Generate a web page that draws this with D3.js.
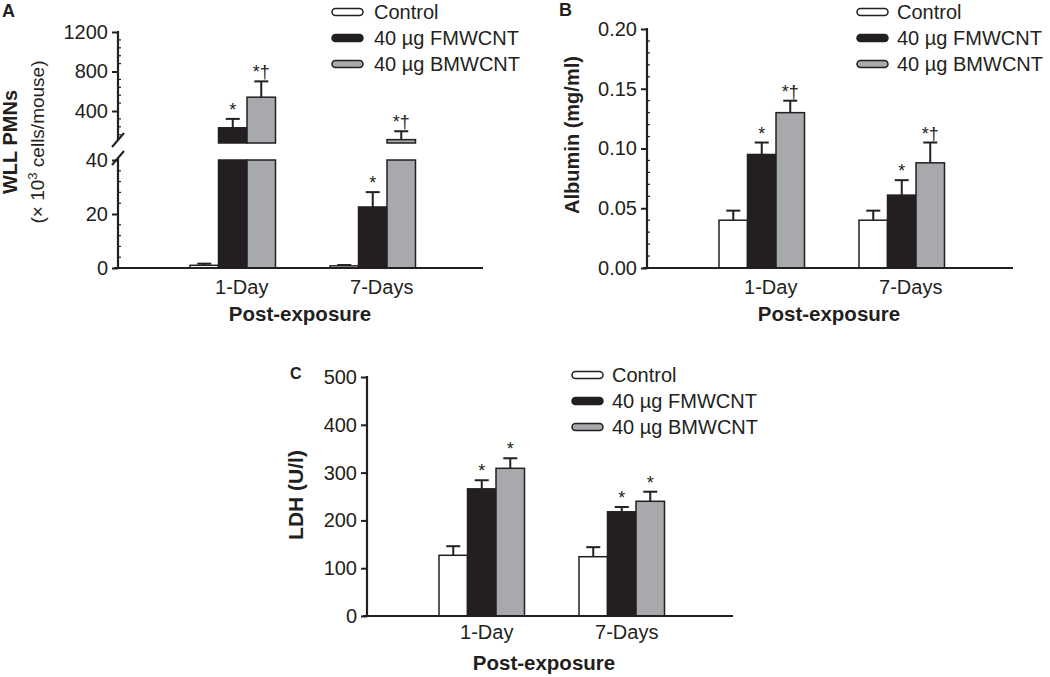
<!DOCTYPE html>
<html><head><meta charset="utf-8">
<script src="https://cdn.jsdelivr.net/npm/d3@7"></script>
<style>
body{margin:0;background:#fff}
svg{display:block}
text{font-family:"Liberation Sans",Arial,Helvetica,sans-serif;fill:#231f20}
</style>
</head><body>
<svg id="c" width="1050" height="677"></svg>
<script>
// ---------- data ----------
const categories = ["1-Day", "7-Days"];
const seriesNames = ["Control", "40 µg FMWCNT", "40 µg BMWCNT"];

// Panel A: WLL PMNs (x10^3 cells/mouse)
const pmnControl = [1.0, 0.8];
const pmnFMWCNT = [230, 22.6];
const pmnBMWCNT = [540, 110];
const pmnControlErr = [0.6, 0.3];
const pmnFMWCNTErr = [90, 5.5];
const pmnBMWCNTErr = [160, 85];
const pmnMarks = [["", "*", "*†"], ["", "*", "*†"]];
const pmnLowerTicks = [0, 20, 40];
const pmnUpperTicks = [400, 800, 1200];

// Panel B: Albumin (mg/ml)
const albControl = [0.040, 0.040];
const albFMWCNT = [0.095, 0.061];
const albBMWCNT = [0.130, 0.088];
const albControlErr = [0.008, 0.008];
const albFMWCNTErr = [0.010, 0.0125];
const albBMWCNTErr = [0.010, 0.017];
const albMarks = [["", "*", "*†"], ["", "*", "*†"]];
const albTicks = [0, 0.05, 0.10, 0.15, 0.20];

// Panel C: LDH (U/l)
const ldhControl = [127, 124];
const ldhFMWCNT = [266, 218];
const ldhBMWCNT = [309, 240];
const ldhControlErr = [19, 20];
const ldhFMWCNTErr = [18, 10];
const ldhBMWCNTErr = [21, 20];
const ldhMarks = [["", "*", "*"], ["", "*", "*"]];
const ldhTicks = [0, 100, 200, 300, 400, 500];

// ---------- style ----------
const dark = "#231f20";
const fills = ["#ffffff", "#231f20", "#a7a9ac"];
const svg = d3.select("#c");

function xScales(x0) {
  const xb = d3.scaleBand().domain(categories)
    .range([x0 + 72, x0 + 72 + 140 + 85.5]).paddingInner(54.5 / 140).paddingOuter(0);
  const xi = d3.scaleBand().domain(seriesNames).range([0, xb.bandwidth()]);
  return [xb, xi];
}

function xAxis(g, xb, x0, y0, len, dx, labelDy, titleX, titleDy) {
  g.append("line").attr("x1", x0 - 4).attr("x2", x0 + len).attr("y1", y0).attr("y2", y0)
    .attr("stroke", dark).attr("stroke-width", 2.2);
  const ax = g.append("g").attr("transform", `translate(0,${y0})`)
    .call(d3.axisBottom(xb).tickSize(0));
  ax.select(".domain").remove();
  ax.selectAll("text").attr("y", labelDy).attr("dy", 0).attr("dx", dx)
    .style("font-size", "20px");
  g.append("text").attr("x", titleX).attr("y", y0 + titleDy).attr("text-anchor", "middle")
    .style("font-size", "20.5px").style("font-weight", "bold").text("Post-exposure");
}

function yAxis(g, scale, ticks, minors, x0, fmt, yTop, yBottom) {
  const ax = g.append("g").attr("transform", `translate(${x0},0)`)
    .call(d3.axisLeft(scale).tickValues(ticks).tickSize(6).tickPadding(4).tickFormat(fmt));
  ax.select(".domain").remove();
  ax.selectAll(".tick line").attr("stroke", dark).attr("stroke-width", 2);
  ax.selectAll("text").style("font-size", "20px");
  g.selectAll(null).data(minors).enter().append("line")
    .attr("x1", x0).attr("x2", x0 + 3)
    .attr("y1", d => scale(d)).attr("y2", d => scale(d))
    .attr("stroke", dark).attr("stroke-width", 1.2);
  g.append("line").attr("x1", x0).attr("x2", x0).attr("y1", yTop).attr("y2", yBottom)
    .attr("stroke", dark).attr("stroke-width", 2.2);
}

function errBar(g, cx, yFrom, yTo, mark) {
  g.append("line").attr("x1", cx).attr("x2", cx).attr("y1", yFrom).attr("y2", yTo)
    .attr("stroke", dark).attr("stroke-width", 2);
  g.append("line").attr("x1", cx - 7).attr("x2", cx + 7).attr("y1", yTo).attr("y2", yTo)
    .attr("stroke", dark).attr("stroke-width", 2);
  if (mark) {
    g.append("text").attr("x", cx).attr("y", yTo - 3).attr("text-anchor", "middle")
      .style("font-size", "18px").text(mark);
  }
}

function legend(g, x, y, tx) {
  seriesNames.forEach((s, i) => {
    g.append("rect").attr("x", x).attr("y", y + i * 26 - 3.5).attr("width", 31).attr("height", 7)
      .attr("rx", 3.5).attr("fill", fills[i]).attr("stroke", dark).attr("stroke-width", 1.5);
    g.append("text").attr("x", tx).attr("y", y + i * 26 + 7).style("font-size", "20px").text(s);
  });
}

function simpleBars(g, xb, xi, y, means, errs, marks) {
  categories.forEach((c, ci) => {
    seriesNames.forEach((s, si) => {
      const v = means[si][ci], e = errs[si][ci];
      const bx = xb(c) + xi(s), bw = xi.bandwidth();
      errBar(g, bx + bw / 2, y(v), y(v + e), marks[ci][si]);
      g.append("rect").attr("x", bx).attr("y", y(v)).attr("width", bw).attr("height", y(0) - y(v))
        .attr("fill", fills[si]).attr("stroke", dark).attr("stroke-width", 1.5);
    });
  });
}

// ---------- Panel A ----------
(function () {
  const g = svg.append("g");
  const x0 = 118, y0 = 268, len = 365;
  const [xb, xi] = xScales(x0);
  const yLow = d3.scaleLinear().domain([0, 40]).range([y0, 160]);
  const yUp = d3.scaleLinear().domain([400, 1200]).range([111, 32]);
  const breakY = 143;
  const upMin = yUp.invert(breakY);

  const means = [pmnControl, pmnFMWCNT, pmnBMWCNT];
  const errs = [pmnControlErr, pmnFMWCNTErr, pmnBMWCNTErr];
  categories.forEach((c, ci) => {
    seriesNames.forEach((s, si) => {
      const v = means[si][ci], e = errs[si][ci];
      const bx = xb(c) + xi(s), bw = xi.bandwidth();
      if (v > 40) {
        errBar(g, bx + bw / 2, yUp(Math.max(v, upMin)), yUp(v + e), pmnMarks[ci][si]);
        g.append("rect").attr("x", bx).attr("y", yUp(v)).attr("width", bw)
          .attr("height", Math.max(0, yUp(upMin) - yUp(v)))
          .attr("fill", fills[si]).attr("stroke", dark).attr("stroke-width", 1.5);
        g.append("rect").attr("x", bx).attr("y", yLow(40)).attr("width", bw)
          .attr("height", yLow(0) - yLow(40))
          .attr("fill", fills[si]).attr("stroke", dark).attr("stroke-width", 1.5);
      } else {
        errBar(g, bx + bw / 2, yLow(v), yLow(v + e), pmnMarks[ci][si]);
        g.append("rect").attr("x", bx).attr("y", yLow(v)).attr("width", bw)
          .attr("height", yLow(0) - yLow(v))
          .attr("fill", fills[si]).attr("stroke", dark).attr("stroke-width", 1.5);
      }
    });
  });

  yAxis(g, yLow, pmnLowerTicks, d3.range(4, 40, 4).filter(d => d % 20 !== 0), x0, d3.format("d"), 158, y0 + 1);
  yAxis(g, yUp, pmnUpperTicks, d3.range(160, 1200, 80).filter(d => d % 400 !== 0 && yUp(d) < 140), x0, d3.format("d"), 31, 140);
  // break marks
  [140, 158].forEach(cy => {
    g.append("line").attr("x1", x0 - 6).attr("y1", cy + 7).attr("x2", x0 + 6).attr("y2", cy - 7)
      .attr("stroke", dark).attr("stroke-width", 2);
  });

  xAxis(g, xb, x0, y0, len, 9, 26, 300, 53);
  legend(g, 332, 12, 374);
  g.append("text").attr("x", 2).attr("y", 17).style("font-size", "18px").style("font-weight", "bold").text("A");
  g.append("text").attr("transform", "translate(17,142) rotate(-90)").attr("text-anchor", "middle")
    .style("font-size", "20px").style("font-weight", "bold").text("WLL PMNs");
  const t = g.append("text").attr("transform", "translate(44,142) rotate(-90)").attr("text-anchor", "middle")
    .style("font-size", "19px");
  t.append("tspan").text("(× 10");
  t.append("tspan").attr("dy", -7).style("font-size", "13px").text("3");
  t.append("tspan").attr("dy", 7).text(" cells/mouse)");
})();

// ---------- Panel B ----------
(function () {
  const g = svg.append("g");
  const x0 = 647, y0 = 268, len = 366;
  const [xb, xi] = xScales(x0);
  const y = d3.scaleLinear().domain([0, 0.2]).range([y0, 29]);
  simpleBars(g, xb, xi, y, [albControl, albFMWCNT, albBMWCNT],
    [albControlErr, albFMWCNTErr, albBMWCNTErr], albMarks);
  yAxis(g, y, albTicks, d3.range(1, 20).filter(d => d % 5 !== 0).map(d => d / 100), x0,
    d3.format(".2f"), 28, y0 + 1);
  xAxis(g, xb, x0, y0, len, 9, 26, 829, 53);
  legend(g, 857, 12, 897);
  g.append("text").attr("x", 559).attr("y", 16).style("font-size", "18px").style("font-weight", "bold").text("B");
  g.append("text").attr("transform", "translate(579,135) rotate(-90)").attr("text-anchor", "middle")
    .style("font-size", "20px").style("font-weight", "bold").text("Albumin (mg/ml)");
})();

// ---------- Panel C ----------
(function () {
  const g = svg.append("g");
  const x0 = 367, y0 = 616, len = 366;
  const [xb, xi] = xScales(x0);
  const y = d3.scaleLinear().domain([0, 500]).range([y0, 377]);
  simpleBars(g, xb, xi, y, [ldhControl, ldhFMWCNT, ldhBMWCNT],
    [ldhControlErr, ldhFMWCNTErr, ldhBMWCNTErr], ldhMarks);
  yAxis(g, y, ldhTicks, [], x0, d3.format("d"), 376, y0 + 1);
  xAxis(g, xb, x0, y0, len, 5, 23, 544, 54);
  legend(g, 572, 375, 612);
  g.append("text").attr("x", 290).attr("y", 379).style("font-size", "16px").style("font-weight", "bold").text("C");
  g.append("text").attr("transform", "translate(303,495) rotate(-90)").attr("text-anchor", "middle")
    .style("font-size", "21px").style("font-weight", "bold").text("LDH (U/l)");
})();
</script>
</body></html>
